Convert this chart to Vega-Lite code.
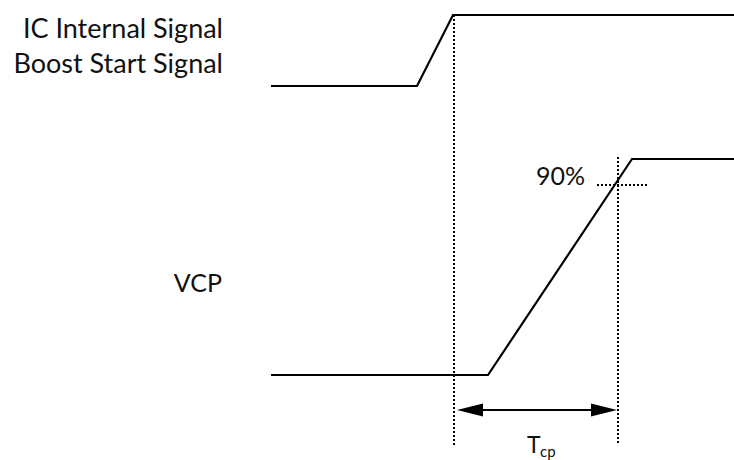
{
  "$schema": "https://vega.github.io/schema/vega-lite/v6.json",
  "width": 734,
  "height": 460,
  "padding": 0,
  "autosize": "none",
  "background": "white",
  "config": {"view": {"stroke": null}},
  "datasets": {
    "signals": [
      {"signal": "IC", "order": 1, "t": 271, "v": 86},
      {"signal": "IC", "order": 2, "t": 417, "v": 86},
      {"signal": "IC", "order": 3, "t": 453, "v": 15},
      {"signal": "IC", "order": 4, "t": 734, "v": 15},
      {"signal": "VCP", "order": 1, "t": 271, "v": 375},
      {"signal": "VCP", "order": 2, "t": 488, "v": 375},
      {"signal": "VCP", "order": 3, "t": 632, "v": 159},
      {"signal": "VCP", "order": 4, "t": 734, "v": 159}
    ],
    "vmarks": [
      {"t": 454, "v1": 15, "v2": 445},
      {"t": 618, "v1": 157, "v2": 445}
    ],
    "hmarks": [
      {"t1": 597, "t2": 648, "v": 185}
    ],
    "arrow": [
      {"t1": 470, "t2": 604, "v": 410}
    ],
    "heads": [
      {"side": "left", "t": 470, "v": 410},
      {"side": "right", "t": 604, "v": 410}
    ],
    "biglabels": [
      {"text": "IC Internal Signal", "t": 223, "v": 38},
      {"text": "Boost Start Signal", "t": 223, "v": 73}
    ],
    "labels": [
      {"text": "VCP", "t": 222, "v": 292},
      {"text": "90%", "t": 585, "v": 185}
    ],
    "tlabel": [{"text": "T", "t": 527, "v": 453}],
    "sublabel": [{"text": "cp", "t": 540, "v": 457}]
  },
  "encoding": {},
  "layer": [
    {
      "data": {"name": "vmarks"},
      "mark": {"type": "rule", "color": "#000", "strokeWidth": 2, "strokeDash": [2, 2]},
      "encoding": {
        "x": {"field": "t", "type": "quantitative", "scale": {"domain": [0, 734], "nice": false, "zero": false}, "axis": null},
        "y": {"field": "v1", "type": "quantitative", "scale": {"domain": [0, 460], "nice": false, "zero": false, "reverse": true}, "axis": null},
        "y2": {"field": "v2"}
      }
    },
    {
      "data": {"name": "hmarks"},
      "mark": {"type": "rule", "color": "#000", "strokeWidth": 2, "strokeDash": [2, 2]},
      "encoding": {
        "x": {"field": "t1", "type": "quantitative"},
        "x2": {"field": "t2"},
        "y": {"field": "v", "type": "quantitative"}
      }
    },
    {
      "data": {"name": "signals"},
      "mark": {"type": "line", "color": "#000", "strokeWidth": 2.2, "strokeJoin": "miter"},
      "encoding": {
        "x": {"field": "t", "type": "quantitative"},
        "y": {"field": "v", "type": "quantitative"},
        "detail": {"field": "signal"},
        "order": {"field": "order"}
      }
    },
    {
      "data": {"name": "arrow"},
      "mark": {"type": "rule", "color": "#000", "strokeWidth": 2.2},
      "encoding": {
        "x": {"field": "t1", "type": "quantitative"},
        "x2": {"field": "t2"},
        "y": {"field": "v", "type": "quantitative"}
      }
    },
    {
      "data": {"name": "heads"},
      "transform": [{"filter": "datum.side === 'left'"}],
      "mark": {"type": "point", "filled": true, "color": "#000", "opacity": 1, "size": 676, "shape": "M-1,0L1,-0.5L1,0.5Z"},
      "encoding": {
        "x": {"field": "t", "type": "quantitative"},
        "y": {"field": "v", "type": "quantitative"}
      }
    },
    {
      "data": {"name": "heads"},
      "transform": [{"filter": "datum.side === 'right'"}],
      "mark": {"type": "point", "filled": true, "color": "#000", "opacity": 1, "size": 676, "shape": "M1,0L-1,-0.5L-1,0.5Z"},
      "encoding": {
        "x": {"field": "t", "type": "quantitative"},
        "y": {"field": "v", "type": "quantitative"}
      }
    },
    {
      "data": {"name": "biglabels"},
      "mark": {"type": "text", "align": "right", "baseline": "alphabetic", "font": "Lato", "fontSize": 27, "color": "#111"},
      "encoding": {
        "x": {"field": "t", "type": "quantitative"},
        "y": {"field": "v", "type": "quantitative"},
        "text": {"field": "text"}
      }
    },
    {
      "data": {"name": "labels"},
      "mark": {"type": "text", "align": "right", "baseline": "alphabetic", "font": "Lato", "fontSize": 25, "color": "#111"},
      "encoding": {
        "x": {"field": "t", "type": "quantitative"},
        "y": {"field": "v", "type": "quantitative"},
        "text": {"field": "text"}
      }
    },
    {
      "data": {"name": "tlabel"},
      "mark": {"type": "text", "align": "left", "baseline": "alphabetic", "font": "Lato", "fontSize": 23, "color": "#111"},
      "encoding": {
        "x": {"field": "t", "type": "quantitative"},
        "y": {"field": "v", "type": "quantitative"},
        "text": {"field": "text"}
      }
    },
    {
      "data": {"name": "sublabel"},
      "mark": {"type": "text", "align": "left", "baseline": "alphabetic", "font": "Lato", "fontSize": 15, "color": "#111"},
      "encoding": {
        "x": {"field": "t", "type": "quantitative"},
        "y": {"field": "v", "type": "quantitative"},
        "text": {"field": "text"}
      }
    }
  ]
}
